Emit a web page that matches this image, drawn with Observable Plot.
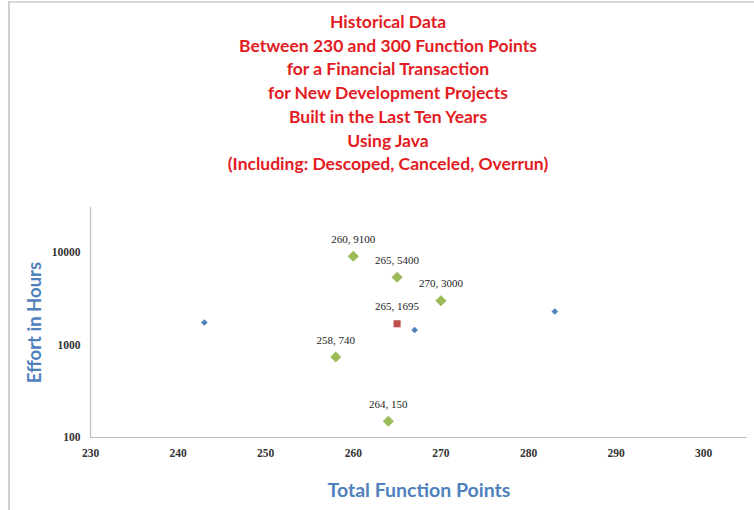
<!DOCTYPE html>
<html>
<head>
<meta charset="utf-8">
<script src="https://cdn.jsdelivr.net/npm/d3@7"></script>
<script src="https://cdn.jsdelivr.net/npm/@observablehq/plot@0.6"></script>
<style>
  html, body { margin: 0; padding: 0; background: #fff; }
  #wrap { position: relative; width: 754px; height: 510px; overflow: hidden; background: #fff; }
  #topline { position: absolute; left: 8px; top: 1px; width: 746px; height: 2px; background: #d9d9d9; }
  #leftline { position: absolute; left: 8px; top: 1px; width: 1.5px; height: 509px; background: #d0d0d0; }
  #title { position: absolute; left: 168px; top: 10px; width: 440px; text-align: center;
           font-family: Lato, "Open Sans", sans-serif; font-weight: bold; font-size: 17.5px;
           line-height: 23.7px; color: #e31b23; }
  #chart { position: absolute; left: 0; top: 175px; }
</style>
</head>
<body>
<div id="wrap">
  <div id="topline"></div>
  <div id="leftline"></div>
  <div id="title">
    <div>Historical Data</div>
    <div>Between 230 and 300 Function Points</div>
    <div>for a Financial Transaction</div>
    <div>for New Development Projects</div>
    <div>Built in the Last Ten Years</div>
    <div>Using Java</div>
    <div>(Including: Descoped, Canceled, Overrun)</div>
  </div>
  <div id="chart"></div>
</div>
<script>
// Data
const blueX = [243, 267, 283];
const blueY = [1750, 1450, 2300];
const redX = [265];
const redY = [1695];
const greenX = [260, 265, 270, 258, 264];
const greenY = [9100, 5400, 3000, 740, 150];
const xTicks = [230, 240, 250, 260, 270, 280, 290, 300];
const yTicks = [100, 1000, 10000];
const xTitle = "Total Function Points";
const yTitle = "Effort in Hours";

const blue = blueX.map((x, i) => ({x, y: blueY[i]}));
const red = redX.map((x, i) => ({x, y: redY[i]}));
const green = greenX.map((x, i) => ({x, y: greenY[i]}));
const labeled = green.concat(red);

const serif = "'Liberation Serif', 'DejaVu Serif', serif";
const sans = "Lato, 'Open Sans', sans-serif";

const chart = Plot.plot({
  width: 754,
  height: 335,
  marginLeft: 90,
  marginRight: 7,
  marginTop: 32,
  marginBottom: 73,
  x: {domain: [230, 305]},
  y: {type: "log", domain: [100, 30600]},
  marks: [
    Plot.ruleX([230], {stroke: "#bfbfbf", strokeWidth: 1.2}),
    Plot.ruleY([100], {stroke: "#bfbfbf", strokeWidth: 1.2}),
    Plot.axisX({ticks: xTicks, tickSize: 0, tickPadding: 11, tickFormat: d => String(d), label: null,
      fontFamily: serif, fontSize: 11.5, fontWeight: "bold", fill: "#333"}),
    Plot.axisY({ticks: yTicks, tickSize: 0, tickPadding: 10, tickFormat: d => String(d), label: null,
      fontFamily: serif, fontSize: 11.5, fontWeight: "bold", fill: "#333"}),
    Plot.dot(blue, {x: "x", y: "y", symbol: "diamond2", r: 3, fill: "#4F81BD", stroke: "none"}),
    Plot.dot(red, {x: "x", y: "y", symbol: "square", r: 4, fill: "#C0504D", stroke: "none"}),
    Plot.dot(green, {x: "x", y: "y", symbol: "diamond2", r: 5, fill: "#9BBB59", stroke: "none"}),
    Plot.text(labeled, {x: "x", y: "y", text: d => `${d.x}, ${d.y}`, dy: -17,
      fontFamily: serif, fontSize: 11, fill: "#222"}),
    Plot.text([xTitle], {frameAnchor: "bottom", dy: 53, text: d => d, lineAnchor: "middle", textAnchor: "middle",
      fontFamily: sans, fontWeight: "bold", fontSize: 19.5, fill: "#4F81BD"}),
    Plot.text([yTitle], {frameAnchor: "left", dx: -55, rotate: -90, text: d => d, lineAnchor: "middle", textAnchor: "middle",
      fontFamily: sans, fontWeight: "bold", fontSize: 18.5, fill: "#4F81BD"})
  ]
});
document.getElementById("chart").appendChild(chart);
</script>
</body>
</html>
